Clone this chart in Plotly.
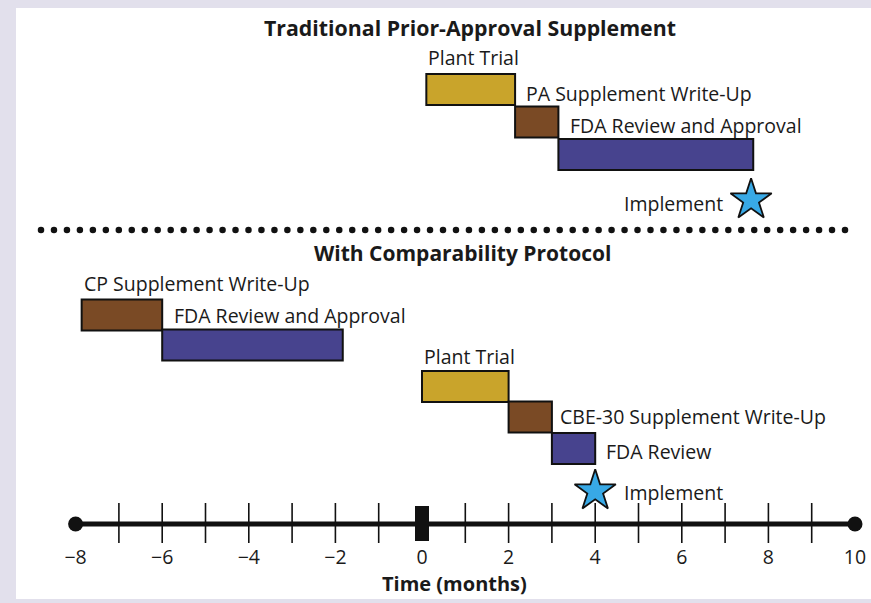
import plotly.graph_objects as go
import numpy as np

# ---------------- data ----------------
top_tasks = ["Plant Trial", "PA Supplement Write-Up", "FDA Review and Approval"]
top_start = [0.1, 2.15, 3.15]
top_end = [2.15, 3.15, 7.65]
top_implement = 7.6

bot_tasks = ["CP Supplement Write-Up", "FDA Review and Approval", "Plant Trial",
             "CBE-30 Supplement Write-Up", "FDA Review"]
bot_start = [-7.86, -6.0, 0.0, 2.0, 3.0]
bot_end = [-6.0, -1.83, 2.0, 3.0, 4.0]
bot_implement = 4.0

tick_vals = [-8, -6, -4, -2, 0, 2, 4, 6, 8, 10]
minor_ticks = [-7, -6, -5, -4, -3, -2, -1, 1, 2, 3, 4, 5, 6, 7, 8, 9]
axis_min, axis_max = -8, 10

# ---------------- style ----------------
GOLD = "#c9a42b"
BROWN = "#7a4a25"
PURPLE = "#47438e"
STAR = "#38a9e6"
FONT = "Open Sans"
W, H = 871, 603
PLOT_B = 543          # bottom of plot area in px
SCALE = 43.3          # px per month
ZERO_PX = 422
xr = [-ZERO_PX / SCALE, (W - ZERO_PX) / SCALE]

top_colors = [GOLD, BROWN, PURPLE]
top_y = [89.5, 122, 154.5]
bot_colors = [BROWN, PURPLE, GOLD, BROWN, PURPLE]
bot_y = [315, 345, 386.5, 417, 448.5]

fig = go.Figure()

def add_bars(starts, ends, ys, colors):
    fig.add_trace(go.Bar(
        orientation="h",
        base=starts,
        x=[e - s for s, e in zip(starts, ends)],
        y=ys,
        width=[31] * len(ys),
        marker=dict(color=colors, line=dict(color="#111111", width=2)),
        hoverinfo="skip", showlegend=False,
    ))

add_bars(top_start, top_end, top_y, top_colors)
add_bars(bot_start, bot_end, bot_y, bot_colors)

# Stars
fig.add_trace(go.Scatter(
    x=[top_implement, bot_implement], y=[200, 491], mode="markers",
    marker=dict(symbol="star", size=31, color=STAR, line=dict(color="#111111", width=1.8)),
    hoverinfo="skip", showlegend=False,
))

# Time axis line
AX_Y = 524
fig.add_trace(go.Scatter(
    x=[axis_min, axis_max], y=[AX_Y, AX_Y], mode="lines",
    line=dict(color="#111111", width=5), hoverinfo="skip", showlegend=False,
))
fig.add_trace(go.Scatter(
    x=minor_ticks, y=[AX_Y] * len(minor_ticks), mode="markers",
    marker=dict(symbol="line-ns", size=30, line=dict(color="#111111", width=1.6)),
    hoverinfo="skip", showlegend=False,
))
fig.add_trace(go.Scatter(
    x=[axis_min, axis_max], y=[AX_Y, AX_Y], mode="markers",
    marker=dict(symbol="circle", size=15, color="#111111"),
    hoverinfo="skip", showlegend=False,
))

# Dotted separator (pixel-space axis x2)
dot_x = np.linspace(41, 845, 63)
fig.add_trace(go.Scatter(
    x=dot_x, y=[230] * len(dot_x), xaxis="x2", mode="markers",
    marker=dict(symbol="circle", size=6.5, color="#111111"),
    hoverinfo="skip", showlegend=False,
))

shapes = [
    dict(type="rect", xref="paper", yref="paper", layer="below",
         x0=16 / W, x1=1.02, y0=(PLOT_B - 599) / PLOT_B, y1=(PLOT_B - 8) / PLOT_B,
         fillcolor="white", line=dict(width=0)),
    dict(type="rect", xref="x", yref="y", xsizemode="pixel", xanchor=0,
         x0=-7, x1=7, y0=506, y1=541, fillcolor="#111111", line=dict(width=0)),
]

ann = []
def label(text, x, y, xshift=0, xanchor="left", size=19.5, bold=False, xref="x"):
    ann.append(dict(text=f"<b>{text}</b>" if bold else text, x=x, y=y, xref=xref, yref="y",
                    xanchor=xanchor, yanchor="middle", xshift=xshift, showarrow=False,
                    font=dict(family=FONT, size=size, color="#1a1a1a")))

label("Traditional Prior-Approval Supplement", 470 / W, 27, xanchor="center", size=21.3, bold=True, xref="paper")
label("With Comparability Protocol", 462 / W, 253, xanchor="center", size=21, bold=True, xref="paper")

# top labels
label(top_tasks[0], top_start[0], 57)
label(top_tasks[1], top_end[0], 93, xshift=9)
label(top_tasks[2], top_end[1], 125, xshift=10)
label("Implement", top_implement, 203, xshift=-26, xanchor="right")
# bottom labels
label(bot_tasks[0], bot_start[0], 283)
label(bot_tasks[1], bot_end[0], 315, xshift=10)
label(bot_tasks[2], bot_start[2], 356)
label(bot_tasks[3], bot_end[3], 416, xshift=6)
label(bot_tasks[4], bot_end[4], 451, xshift=9)
label("Implement", bot_implement, 492, xshift=27)

ann.append(dict(text="<b>Time (months)</b>", x=455 / W, y=(PLOT_B - 583) / PLOT_B,
                xref="paper", yref="paper", xanchor="center", yanchor="middle",
                showarrow=False, font=dict(family=FONT, size=20, color="#1a1a1a")))

fig.update_layout(
    width=W, height=H,
    margin=dict(l=0, r=0, t=0, b=H - PLOT_B),
    paper_bgcolor="#e2e0ec",
    plot_bgcolor="rgba(0,0,0,0)",
    barmode="overlay",
    shapes=shapes,
    annotations=ann,
    xaxis=dict(range=xr, tickvals=tick_vals, ticktext=[("\u2212" + str(-v)) if v < 0 else str(v) for v in tick_vals],
               showgrid=False, zeroline=False, showline=False, ticks="",
               tickfont=dict(family=FONT, size=19.5, color="#1a1a1a"), fixedrange=True),
    xaxis2=dict(range=[0, W], overlaying="x", visible=False, fixedrange=True),
    yaxis=dict(range=[PLOT_B, 0], visible=False, fixedrange=True),
    font=dict(family=FONT),
)

fig.write_html("out.html", config={"displayModeBar": False},
               post_script="document.body.style.margin='0';document.body.style.overflow='hidden';")
